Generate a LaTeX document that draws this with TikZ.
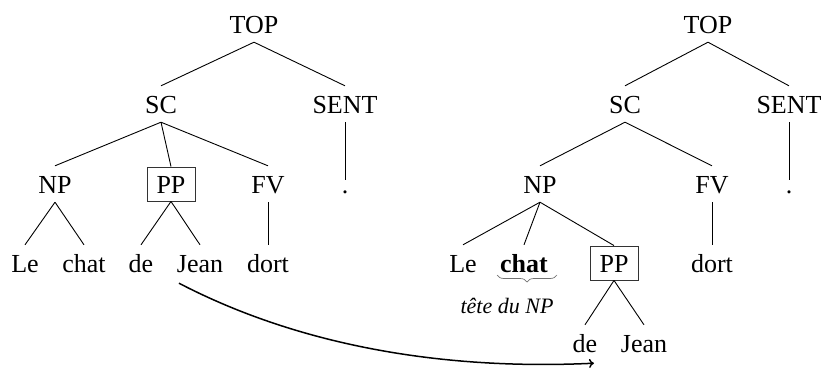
\documentclass[tikz,border=0pt]{standalone}
\usepackage{fontspec}
\setmainfont{Liberation Serif}
\usetikzlibrary{calc,decorations.pathreplacing,arrows.meta}
\begin{document}
\begin{tikzpicture}[x=1pt,y=-1pt,
  lbl/.style={anchor=base,font=\fontsize{26}{30}\selectfont,text height=18pt,text depth=0pt,inner xsep=9pt,inner ysep=9pt},
  boxed/.style={lbl,draw=black!80,line width=0.9pt,inner ysep=8pt,inner xsep=9.5pt},
  dotlbl/.style={lbl,text height=4pt},
  edge/.style={line width=0.9pt}]
\useasboundingbox (0,0) rectangle (823,370);
% left tree
\node[lbl] (TOPa) at (254,33) {TOP};
\node[lbl] (SCa) at (161,113) {SC};
\node[lbl] (SENTa) at (345,113) {SENT};
\node[lbl] (NPa) at (55,193) {NP};
\node[boxed] (PPa) at (171,193) {PP};
\node[lbl] (FVa) at (268,193) {FV};
\node[dotlbl] (DOTa) at (345,193) {.};
\node[lbl] (Lea) at (25,272) {Le};
\node[lbl] (chata) at (84,272) {chat};
\node[lbl] (dea) at (141,272) {de};
\node[lbl] (Jeana) at (200,272) {Jean};
\node[lbl] (dorta) at (268,272) {dort};
\draw[edge] (TOPa.south) -- (SCa.north);
\draw[edge] (TOPa.south) -- (SENTa.north);
\draw[edge] (SENTa.south) -- (DOTa.north);
\draw[edge] (SCa.south) -- (NPa.north);
\draw[edge] (SCa.south) -- (PPa.north);
\draw[edge] (SCa.south) -- (FVa.north);
\draw[edge] (NPa.south) -- (Lea.north);
\draw[edge] (NPa.south) -- (chata.north);
\draw[edge] (PPa.south) -- (dea.north);
\draw[edge] (PPa.south) -- (Jeana.north);
\draw[edge] (FVa.south) -- (dorta.north);
% right tree
\node[lbl] (TOPb) at (708,33) {TOP};
\node[lbl] (SCb) at (625,113) {SC};
\node[lbl] (SENTb) at (789,113) {SENT};
\node[lbl] (NPb) at (540,193) {NP};
\node[lbl] (FVb) at (712,193) {FV};
\node[dotlbl] (DOTb) at (789,193) {.};
\node[lbl] (Leb) at (463,272) {Le};
\node[lbl,font=\fontsize{26}{30}\selectfont\bfseries] (chatb) at (524,272) {chat};
\node[boxed] (PPb) at (614,272) {PP};
\node[lbl] (dortb) at (712,272) {dort};
\node[lbl] (deb) at (585,352) {de};
\node[lbl] (Jeanb) at (644,352) {Jean};
\node[anchor=base,inner sep=0pt,font=\fontsize{22}{26}\selectfont\itshape] (tete) at (507,313) {tête du NP};
\draw[edge] (TOPb.south) -- (SCb.north);
\draw[edge] (TOPb.south) -- (SENTb.north);
\draw[edge] (SENTb.south) -- (DOTb.north);
\draw[edge] (SCb.south) -- (NPb.north);
\draw[edge] (SCb.south) -- (FVb.north);
\draw[edge] (NPb.south) -- (Leb.north);
\draw[edge] (NPb.south) -- (chatb.north);
\draw[edge] (NPb.south) -- (PPb.north);
\draw[edge] (FVb.south) -- (dortb.north);
\draw[edge] (PPb.south) -- (deb.north);
\draw[edge] (PPb.south) -- (Jeanb.north);
% brace
\draw[black!55,line width=0.7pt,decorate,decoration={brace,mirror,amplitude=7pt}]
  ($(chatb.base)+(-27,3)$) -- ($(chatb.base)+(33,3)$);
% arrow
\coordinate (arrS) at ($(Jeana.south)+(-21,2)$);
\coordinate (arrE) at ($(deb.south)+(9,2)$);
\draw[line width=1.5pt,-{To[length=5pt,width=9pt]}] (arrS) .. controls ($(arrS)+(123,64)$) and ($(arrE)+(-147,7)$) .. (arrE);
\end{tikzpicture}
\end{document}
